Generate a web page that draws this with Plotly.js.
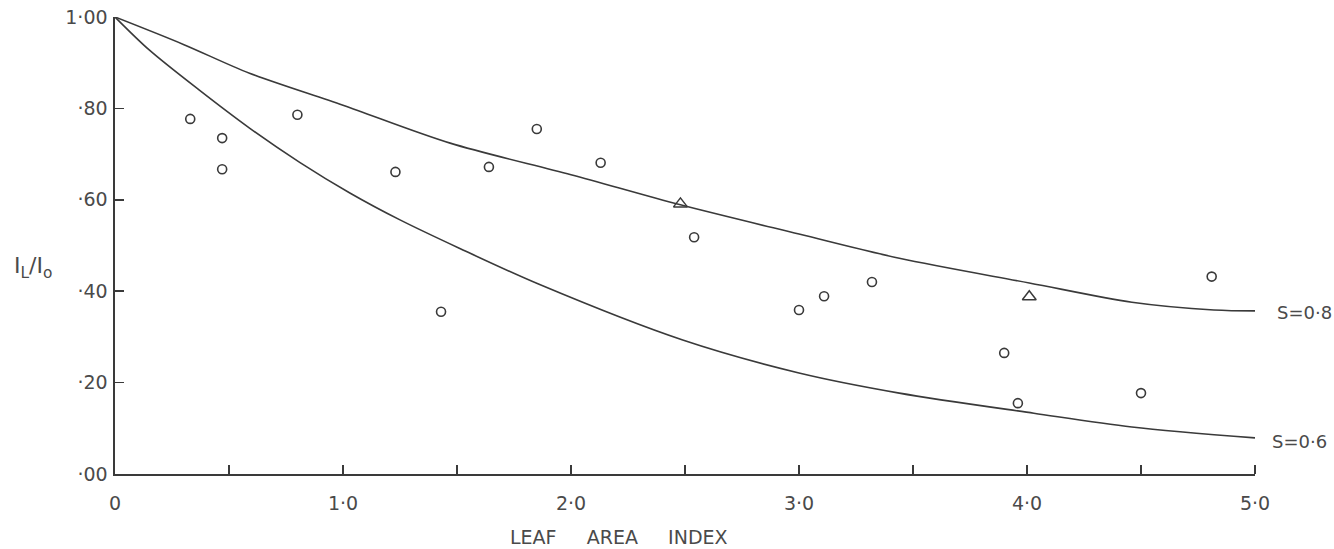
<!DOCTYPE html>
<html>
<head>
<meta charset="utf-8">
<script src="https://cdn.plot.ly/plotly-3.0.1.min.js"></script>
<style>
  html, body { margin: 0; padding: 0; background: #ffffff; }
  #chart { width: 1334px; height: 549px; }
</style>
</head>
<body>
<div id="chart"></div>
<script>
// Curve S = 0.8
const curve08X = [0, 0.3, 0.59, 1.0, 1.47, 2.0, 2.48, 3.0, 3.44, 4.01, 4.46, 4.82, 5.0];
const curve08Y = [1.0, 0.94, 0.877, 0.807, 0.724, 0.655, 0.589, 0.525, 0.472, 0.418, 0.376, 0.359, 0.357];
// Curve S = 0.6
const curve06X = [0, 0.15, 0.37, 0.59, 0.81, 1.03, 1.25, 1.51, 1.86, 2.49, 3.0, 3.44, 4.03, 4.46, 5.0];
const curve06Y = [1.0, 0.928, 0.840, 0.757, 0.682, 0.615, 0.556, 0.494, 0.415, 0.293, 0.221, 0.177, 0.133, 0.103, 0.079];
// Observed points (circles)
const circleX = [0.33, 0.47, 0.47, 0.80, 1.23, 1.43, 1.64, 1.85, 2.13, 2.54, 3.00, 3.11, 3.32, 3.90, 3.96, 4.50, 4.81];
const circleY = [0.777, 0.735, 0.667, 0.786, 0.661, 0.355, 0.672, 0.755, 0.681, 0.518, 0.359, 0.389, 0.420, 0.265, 0.155, 0.177, 0.432];
// Observed points (triangles)
const triX = [2.48, 4.01];
const triY = [0.591, 0.388];
// Axis ticks
const xTickVals = [0, 1.0, 2.0, 3.0, 4.0, 5.0];
const xTickText = ["0", "1·0", "2·0", "3·0", "4·0", "5·0"];
const xMinorTickVals = [0.5, 1.0, 1.5, 2.0, 2.5, 3.0, 3.5, 4.0, 4.5, 5.0];
const yTickVals = [0, 0.2, 0.4, 0.6, 0.8, 1.0];
const yTickText = ["·00", "·20", "·40", "·60", "·80", "1·00"];
// Labels
const curveLabels = ["S=0·8", "S=0·6"];
const xTitle = "LEAF\u00a0\u00a0\u00a0\u00a0\u00a0AREA\u00a0\u00a0\u00a0\u00a0\u00a0INDEX";
const yTitle = "I<sub>L</sub>/I<sub>o</sub>";

const ink = "#3a3a3a";
const txt = "#4a4a4a";
const fontFam = "'DejaVu Sans', 'Liberation Sans', sans-serif";

const traces = [
  { x: curve08X, y: curve08Y, mode: "lines", line: { color: ink, width: 1.6, shape: "spline", smoothing: 0.9 }, hoverinfo: "skip" },
  { x: curve06X, y: curve06Y, mode: "lines", line: { color: ink, width: 1.6, shape: "spline", smoothing: 0.9 }, hoverinfo: "skip" },
  { x: circleX, y: circleY, mode: "markers", marker: { symbol: "circle-open", size: 9, color: ink, line: { width: 1.6, color: ink } } },
  { x: triX, y: triY, mode: "markers", marker: { symbol: "triangle-up-open", size: 12, color: ink, line: { width: 1.5, color: ink } } }
];

const layout = {
  width: 1334, height: 549,
  margin: { l: 115, r: 79, t: 17, b: 75 },
  paper_bgcolor: "#ffffff", plot_bgcolor: "#ffffff",
  showlegend: false,
  font: { family: fontFam, color: txt, size: 18 },
  xaxis: {
    range: [0, 5], showgrid: false, zeroline: false,
    showline: true, linecolor: ink, linewidth: 1.6,
    ticks: "",
    tickmode: "array", tickvals: xTickVals, ticktext: xTickText,
    tickfont: { family: fontFam, size: 19, color: txt },
    ticklabelstandoff: 12,
    minor: { tickmode: "array", tickvals: xMinorTickVals, ticks: "inside", ticklen: 9, tickwidth: 1.6, tickcolor: ink, showgrid: false }
  },
  yaxis: {
    range: [0, 1], showgrid: false, zeroline: false,
    showline: true, linecolor: ink, linewidth: 1.6,
    ticks: "inside", ticklen: 9, tickwidth: 1.6, tickcolor: ink,
    tickmode: "array", tickvals: yTickVals, ticktext: yTickText,
    tickfont: { family: fontFam, size: 19, color: txt },
    ticklabelstandoff: 2
  },
  annotations: [
    { x: 5.0, y: curve08Y[curve08Y.length - 1], xref: "x", yref: "y", text: curveLabels[0], showarrow: false,
      xanchor: "left", xshift: 20, yshift: -2, font: { size: 18, color: txt } },
    { x: 5.0, y: curve06Y[curve06Y.length - 1], xref: "x", yref: "y", text: curveLabels[1], showarrow: false,
      xanchor: "left", xshift: 15, yshift: -4, font: { size: 18, color: txt } },
    { x: -0.072, y: 0.452, xref: "paper", yref: "paper", text: yTitle, showarrow: false,
      xanchor: "center", yanchor: "middle", font: { size: 22, color: txt } },
    { x: 2.21, y: -0.137, xref: "x", yref: "paper", text: xTitle, showarrow: false,
      xanchor: "center", yanchor: "middle", font: { size: 19, color: txt } }
  ]
};

Plotly.newPlot("chart", traces, layout, { displayModeBar: false, staticPlot: true });
</script>
</body>
</html>
